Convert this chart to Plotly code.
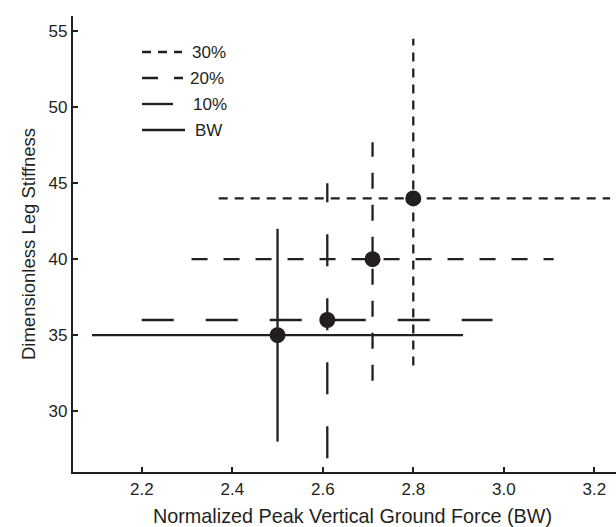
import plotly.graph_objects as go

# ---- data ----
series = ["30%", "20%", "10%", "BW"]
x_mean = [2.80, 2.71, 2.61, 2.50]
y_mean = [44.0, 40.0, 36.0, 35.0]
x_low = [2.37, 2.31, 2.20, 2.09]
x_high = [3.235, 3.11, 2.975, 2.91]
y_low = [33.0, 32.0, 26.9, 28.0]
y_high = [54.5, 47.7, 45.0, 42.0]

x_ticks = [2.2, 2.4, 2.6, 2.8, 3.0, 3.2]
y_ticks = [30, 35, 40, 45, 50, 55]

x_title = "Normalized Peak Vertical Ground Force (BW)"
y_title = "Dimensionless Leg Stiffness"

# ---- styles ----
INK = "#231f20"
FONT = "Liberation Sans, Arial, Helvetica, sans-serif"
dashes = {"30%": "9px,7px", "20%": "16px,16px", "10%": "32px,32px", "BW": "solid"}

fig = go.Figure()

for i, s in enumerate(series):
    fig.add_trace(go.Scatter(
        x=[x_mean[i], x_mean[i]], y=[y_low[i], y_high[i]], mode="lines",
        line=dict(color=INK, width=2.3, dash=dashes[s]), showlegend=False,
        hoverinfo="skip"))
    fig.add_trace(go.Scatter(
        x=[x_low[i], x_high[i]], y=[y_mean[i], y_mean[i]], mode="lines",
        line=dict(color=INK, width=2.3, dash=dashes[s]), showlegend=False,
        hoverinfo="skip"))

fig.add_trace(go.Scatter(
    x=x_mean, y=y_mean, mode="markers", text=series,
    marker=dict(color=INK, size=16, line=dict(width=0)), showlegend=False))

# ---- custom legend (paper coordinates) ----
L, R, T, B = 73, 616, 16, 472
W, H = R - L, B - T


def px_x(p):
    return (p - L) / W


def px_y(p):
    return (B - p) / H


legend_rows = [52, 78, 104, 130]
legend_len = [40, 41, 31, 43]
legend_text_x = [190, 188, 191, 193]
shapes = []
annotations = []
for i, s in enumerate(series):
    shapes.append(dict(type="line", xref="paper", yref="paper",
                       x0=px_x(142), x1=px_x(142 + legend_len[i]),
                       y0=px_y(legend_rows[i]), y1=px_y(legend_rows[i]),
                       line=dict(color=INK, width=2.3, dash=dashes[s])))
    annotations.append(dict(xref="paper", yref="paper", x=px_x(legend_text_x[i]),
                            y=px_y(legend_rows[i]), text=s, showarrow=False,
                            xanchor="left", yanchor="middle",
                            font=dict(family=FONT, size=17, color=INK)))

# x-axis title placed as an annotation (slightly right of plot centre, as in the reference)
annotations.append(dict(xref="paper", yref="paper", x=px_x(352), y=px_y(516),
                        text=x_title, showarrow=False, xanchor="center",
                        yanchor="middle",
                        font=dict(family=FONT, size=19.8, color=INK)))

fig.update_layout(
    width=616, height=527,
    margin=dict(l=L, r=616 - R, t=T, b=527 - B, pad=0),
    paper_bgcolor="white", plot_bgcolor="white",
    font=dict(family=FONT, size=17, color=INK),
    shapes=shapes, annotations=annotations,
    showlegend=False,
    xaxis=dict(range=[2.048, 3.248], tickvals=x_ticks, tickformat=".1f",
               ticks="inside", ticklen=5, tickwidth=1.5, tickcolor=INK,
               showline=True, linecolor=INK, linewidth=2.2, showgrid=False,
               zeroline=False, tickfont=dict(size=17, color=INK)),
    yaxis=dict(range=[26.0, 56.0], tickvals=y_ticks,
               ticks="inside", ticklen=5, tickwidth=1.5, tickcolor=INK,
               showline=True, linecolor=INK, linewidth=2.2, showgrid=False,
               zeroline=False, tickfont=dict(size=17, color=INK),
               title=dict(text=y_title,
                          font=dict(size=18.5, color=INK), standoff=8)),
)

fig.write_html("out.html", config={"displayModeBar": False},
               post_script="document.body.style.margin='0px';"
                           "document.body.style.overflow='hidden';")
